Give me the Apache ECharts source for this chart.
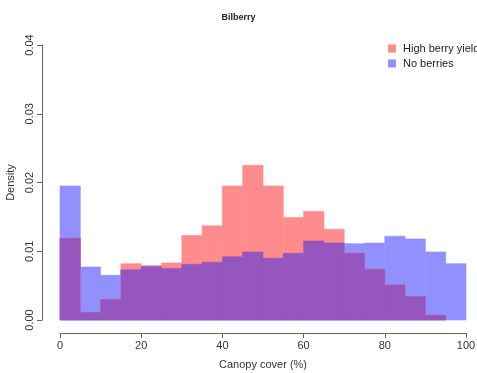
<!DOCTYPE html>
<html lang="en">
<head>
  <meta charset="UTF-8">
  <title>Bilberry</title>
  <script src="https://cdn.jsdelivr.net/npm/echarts@6/dist/echarts.min.js"></script>
  <style>
    html,body{padding:0;margin:0;background:#fff;}
    #box{width:477px;height:373px;}
  </style>
</head>
<body>
  <div id="box"></div>
  <script>
    // histogram bins, width 5 (canopy cover %)
    var binStarts = [0,5,10,15,20,25,30,35,40,45,50,55,60,65,70,75,80,85,90,95];
    var binWidth = 5;
    var highYield = [0.0119,0.0011,0.0030,0.0082,0.0079,0.0083,0.0123,0.0137,0.0195,0.0225,
                     0.0195,0.0149,0.0158,0.0132,0.0097,0.0074,0.0051,0.0034,0.0007,0.0000];
    var noBerries = [0.0195,0.0077,0.0065,0.0073,0.0078,0.0075,0.0081,0.0084,0.0092,0.0099,
                     0.0090,0.0097,0.0115,0.0112,0.0111,0.0112,0.0122,0.0118,0.0099,0.0082];

    function toBins(vals){
      return binStarts.map(function(s,i){ return [s, s+binWidth, vals[i]]; });
    }
    var overlap = highYield.map(function(v,i){ return Math.min(v, noBerries[i]); });

    function renderBin(params, api){
      if (!(api.value(2) > 0)) return null;
      var p0 = api.coord([api.value(0), 0]);
      var p1 = api.coord([api.value(1), api.value(2)]);
      var c = api.visual('color');
      return {
        type:'rect',
        shape:{x:p0[0], y:p1[1], width:p1[0]-p0[0], height:p0[1]-p1[1]},
        style:{fill:c, stroke:c, lineWidth:0.6}
      };
    }

    var font = 'Liberation Sans, Arial, sans-serif';
    var option = {
      animation:false,
      textStyle:{fontFamily:font},
      title:{
        text:'Bilberry', left:'center', top:8,
        textStyle:{fontSize:9, fontWeight:'bold', color:'#222', fontFamily:font}
      },
      legend:{
        orient:'vertical', left:383, top:38,
        itemWidth:8, itemHeight:8, itemGap:4,
        icon:'rect',
        textStyle:{fontSize:11, color:'#222', padding:[0,0,0,2]},
        data:['High berry yield','No berries']
      },
      grid:{left:60, right:11, top:45, bottom:53, outerBoundsMode:'none', containLabel:false},
      xAxis:{
        type:'value', min:0, max:100, interval:20, offset:13,
        name:'Canopy cover (%)', nameLocation:'middle', nameGap:26,
        nameTextStyle:{fontSize:11, color:'#333'},
        axisLine:{onZero:false, lineStyle:{color:'#666', width:1}},
        axisTick:{length:5, lineStyle:{color:'#666'}},
        axisLabel:{fontSize:11, color:'#333', margin:7},
        splitLine:{show:false}
      },
      yAxis:{
        type:'value', min:0, max:0.04, interval:0.01, offset:18,
        name:'Density', nameLocation:'middle', nameGap:26,
        nameTextStyle:{fontSize:11, color:'#333'},
        axisLine:{show:true, onZero:false, lineStyle:{color:'#666', width:1}},
        axisTick:{show:true, length:5, lineStyle:{color:'#666'}},
        axisLabel:{fontSize:11, color:'#333', rotate:90, margin:7,
          formatter:function(v){ return v.toFixed(2); }},
        splitLine:{show:false}
      },
      series:[
        {name:'No berries', type:'custom', renderItem:renderBin,
          itemStyle:{color:'#9090ff'}, encode:{x:[0,1], y:2}, data:toBins(noBerries)},
        {name:'High berry yield', type:'custom', renderItem:renderBin,
          itemStyle:{color:'#ff8c8c'}, encode:{x:[0,1], y:2}, data:toBins(highYield)},
        {name:'overlap', type:'custom', renderItem:renderBin,
          itemStyle:{color:'#9656c0'}, encode:{x:[0,1], y:2}, data:toBins(overlap)}
      ]
    };
    var chart = echarts.init(document.getElementById('box'));
    chart.setOption(option);
  </script>
</body>
</html>
